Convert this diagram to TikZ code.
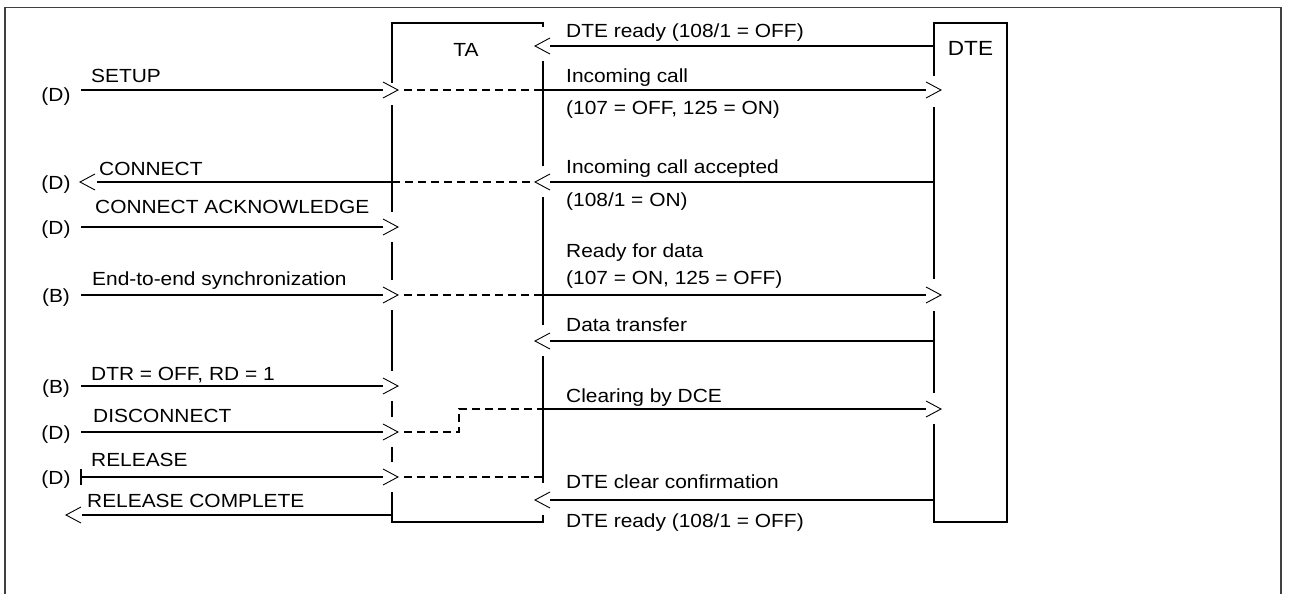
\documentclass[tikz,border=0pt]{standalone}
\usepackage{fontspec}
\setmainfont{Liberation Sans}[FakeStretch=1.10]
\begin{document}
\begin{tikzpicture}[x=1pt,y=-1pt,
  frameline/.style={draw=black!75,line width=1.3pt},
  boxline/.style={line width=1.8pt,line join=miter},
  msg/.style={line width=1.8pt},
  dmsg/.style={line width=1.8pt,dash pattern=on 8pt off 5pt},
  tipline/.style={line width=0.9pt,line join=miter},
  lbl/.style={anchor=base west,inner sep=0pt,font=\fontsize{19pt}{21pt}\selectfont},
  chan/.style={anchor=base,inner sep=0pt,font=\fontsize{19pt}{21pt}\selectfont},
  rtip/.pic={\draw[tipline] (-15,-8) -- (0,0) -- (-15,8);},
  ltip/.pic={\draw[tipline] (15,-8) -- (0,0) -- (15,8);}
]
\useasboundingbox (0,0) rectangle (1291,594);
\fill[white] (0,0) rectangle (1291,594);
% frame
\draw[frameline] (5,594) -- (5,7.5) -- (1281,7.5) -- (1281,594);

% ---- TA box
\node[font=\fontsize{19pt}{21pt}\selectfont,inner sep=0pt] (ta) at (466,50) {TA};
\draw[boxline] (392,83) -- (392,23) -- (543,23) -- (543,27);
\draw[boxline] (392,105) -- (392,212);
\draw[boxline] (392,242) -- (392,280);
\draw[boxline] (392,310) -- (392,371);
\draw[boxline] (392,401) -- (392,417);
\draw[boxline] (392,447) -- (392,462);
\draw[boxline] (392,492) -- (392,522) -- (543,522) -- (543,515);
\draw[boxline] (543,61) -- (543,166);
\draw[boxline] (543,197) -- (543,325);
\draw[boxline] (543,356) -- (543,483);

% ---- DTE box
\node[font=\fontsize{20.5pt}{22pt}\selectfont,inner sep=0pt] (dte) at (970.5,48) {DTE};
\draw[boxline] (934,76) -- (934,23) -- (1007,23) -- (1007,522) -- (934,522) -- (934,424);
\draw[boxline] (934,107) -- (934,279);
\draw[boxline] (934,311) -- (934,393);

% ---- named coordinates on the lifelines
\coordinate (L90) at (81,90);    \coordinate (T90) at (383,90);  \coordinate (TD90) at (404,90);
\coordinate (TR90) at (543,90);  \coordinate (D90) at (926,90);
\coordinate (L182) at (97,182);  \coordinate (TL182) at (392,182); \coordinate (TR182) at (530,182);
\coordinate (R182) at (550,182); \coordinate (D182) at (934,182);
\coordinate (L227) at (81,227);  \coordinate (T227) at (383,227);
\coordinate (L295) at (81,295);  \coordinate (T295) at (383,295); \coordinate (TD295) at (404,295);
\coordinate (TR295) at (543,295); \coordinate (D295) at (926,295);
\coordinate (R46) at (550,46);   \coordinate (D46) at (934,46);
\coordinate (R341) at (550,341); \coordinate (D341) at (934,341);
\coordinate (L386) at (81,386);  \coordinate (T386) at (383,386);
\coordinate (L432) at (81,432);  \coordinate (T432) at (383,432); \coordinate (TD432) at (404,432);
\coordinate (K432) at (459,432); \coordinate (K409) at (459,409);
\coordinate (TR409) at (543,409); \coordinate (D409) at (926,409);
\coordinate (L477) at (81,477);  \coordinate (T477) at (383,477); \coordinate (TD477) at (404,477);
\coordinate (TR477) at (543,477);
\coordinate (R500) at (550,500); \coordinate (D500) at (934,500);
\coordinate (L515) at (82,515);  \coordinate (TL515) at (392,515);

% ---- messages
% SETUP / Incoming call
\draw[msg] (L90) -- (T90);  \pic at (398,90) {rtip};
\draw[dmsg] (TD90) -- (TR90);
\draw[msg] (TR90) -- (D90); \pic at (941,90) {rtip};
% CONNECT / Incoming call accepted
\draw[msg] (D182) -- (R182); \pic at (535,182) {ltip};
\draw[dmsg] (TR182) -- (TL182);
\draw[msg] (TL182) -- (L182); \pic at (80,182) {ltip};
% CONNECT ACKNOWLEDGE
\draw[msg] (L227) -- (T227); \pic at (398,227) {rtip};
% End-to-end / Ready for data
\draw[msg] (L295) -- (T295); \pic at (398,295) {rtip};
\draw[dmsg] (TD295) -- (TR295);
\draw[msg] (TR295) -- (D295); \pic at (941,295) {rtip};
% DTE ready (top)
\draw[msg] (D46) -- (R46); \pic at (535,46) {ltip};
% Data transfer
\draw[msg] (D341) -- (R341); \pic at (535,341) {ltip};
% DTR
\draw[msg] (L386) -- (T386); \pic at (398,386) {rtip};
% DISCONNECT / Clearing by DCE
\draw[msg] (L432) -- (T432); \pic at (398,432) {rtip};
\draw[dmsg,line join=miter] (TD432) -- (K432) -- (K409) -- (TR409);
\draw[msg] (TR409) -- (D409); \pic at (941,409) {rtip};
% RELEASE
\draw[msg] (L477) -- (T477); \pic at (398,477) {rtip};
\draw[line width=1.8pt] (81,469) -- (81,485);
\draw[dmsg] (TD477) -- (TR477);
% DTE clear confirmation
\draw[msg] (D500) -- (R500); \pic at (535,500) {ltip};
% RELEASE COMPLETE
\draw[msg] (TL515) -- (L515); \pic at (66,515) {ltip};

% ---- left labels
\node[lbl] (lsetup) at (91,83) {SETUP};
\node[lbl] (lconn) at (99,175) {CONNECT};
\node[lbl] (lconnack) at (95,213) {CONNECT ACKNOWLEDGE};
\node[lbl] (lsync) at (92,285) {End-to-end synchronization};
\node[lbl] (ldtr) at (91,380) {DTR = OFF, RD = 1};
\node[lbl] (ldisc) at (93,422) {DISCONNECT};
\node[lbl] (lrel) at (91,466) {RELEASE};
\node[lbl] (lrelc) at (87,507) {RELEASE COMPLETE};

\node[chan] (c1) at (56,102) {(D)};
\node[chan] (c2) at (56,189) {(D)};
\node[chan] (c3) at (56,234) {(D)};
\node[chan] (c4) at (56,302) {(B)};
\node[chan] (c5) at (56,393) {(B)};
\node[chan] (c6) at (56,439) {(D)};
\node[chan] (c7) at (56,484) {(D)};

% ---- right labels
\node[lbl] (r1) at (566,38) {DTE ready (108/1 = OFF)};
\node[lbl] (r2) at (566,83) {Incoming call};
\node[lbl] (r3) at (566,114) {(107 = OFF, 125 = ON)};
\node[lbl] (r4) at (566,173) {Incoming call accepted};
\node[lbl] (r5) at (566,206) {(108/1 = ON)};
\node[lbl] (r6) at (566,257) {Ready for data};
\node[lbl] (r7) at (566,284) {(107 = ON, 125 = OFF)};
\node[lbl] (r8) at (566,331) {Data transfer};
\node[lbl] (r9) at (566,402) {Clearing by DCE};
\node[lbl] (r10) at (566,488) {DTE clear confirmation};
\node[lbl] (r11) at (566,527) {DTE ready (108/1 = OFF)};
\end{tikzpicture}
\end{document}
